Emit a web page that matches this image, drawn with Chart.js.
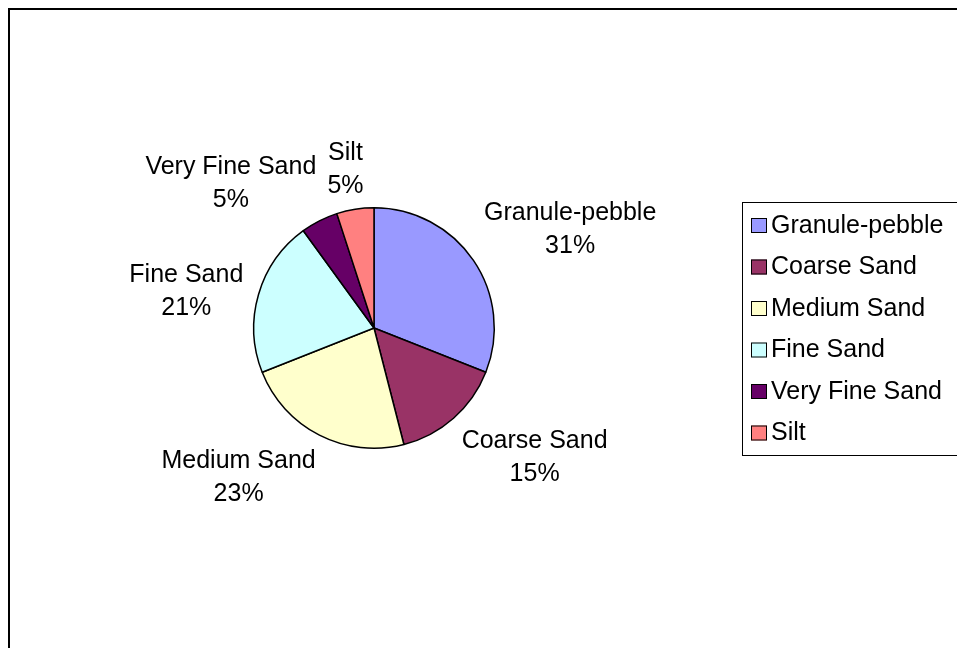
<!DOCTYPE html>
<html lang="en">
<head>
  <meta charset="UTF-8">
  <title>Grain size</title>
  <style>
    html, body { margin: 0; padding: 0; background: #ffffff; }
    #grafico { display: block; }
  </style>
</head>
<body>
  <canvas id="grafico" width="957" height="648"></canvas>

  <script src="https://cdn.jsdelivr.net/npm/chart.js"></script>
  <script>
    // dados do gráfico
    const categorias = ["Granule-pebble", "Coarse Sand", "Medium Sand", "Fine Sand", "Very Fine Sand", "Silt"];
    const valores = [31, 15, 23, 21, 5, 5];
    const cores = ["#9999FF", "#993366", "#FFFFCC", "#CCFFFF", "#660066", "#FF8080"];

    const fonte = '25px "Liberation Sans", Arial, sans-serif';

    // moldura externa do gráfico
    const moldura = {
      id: 'moldura',
      beforeDraw(chart) {
        const ctx = chart.ctx;
        ctx.save();
        ctx.fillStyle = '#ffffff';
        ctx.fillRect(0, 0, chart.width, chart.height);
        ctx.strokeStyle = '#000000';
        ctx.lineWidth = 2;
        ctx.strokeRect(9, 9, chart.width + 20, chart.height + 20);
        ctx.restore();
      }
    };

    // rótulos fora das fatias (nome + porcentagem)
    const rotulos = {
      id: 'rotulos',
      afterDatasetsDraw(chart) {
        const ctx = chart.ctx;
        const arcos = chart.getDatasetMeta(0).data;
        const total = valores.reduce((a, b) => a + b, 0);
        ctx.save();
        ctx.font = fonte;
        ctx.fillStyle = '#000000';
        ctx.textAlign = 'center';
        ctx.textBaseline = 'middle';
        arcos.forEach((arco, i) => {
          const meio = (arco.startAngle + arco.endAngle) / 2;
          const r = arco.outerRadius + 20;
          const c = Math.cos(meio), s = Math.sin(meio);
          const px = arco.x + c * r;
          const py = arco.y + s * r;
          const linha1 = categorias[i];
          const linha2 = Math.round(valores[i] / total * 100) + '%';
          const w = Math.max(ctx.measureText(linha1).width, ctx.measureText(linha2).width);
          const cx = px + Math.sign(c) * 0.93 * w / 2 * Math.min(1, Math.abs(c) * 2.5);
          const cy = py + Math.sign(s) * 22 * Math.min(1, Math.max(0, Math.abs(s) - 0.3) * 4);
          ctx.fillText(linha1, cx, cy - 14);
          ctx.fillText(linha2, cx, cy + 19);
        });
        ctx.restore();
      }
    };

    // legenda desenhada à direita com caixa
    const legenda = {
      id: 'legenda',
      afterDraw(chart) {
        const ctx = chart.ctx;
        ctx.save();
        ctx.strokeStyle = '#000000';
        ctx.lineWidth = 1;
        ctx.strokeRect(742.5, 202.5, 240, 253);
        ctx.font = fonte;
        ctx.textBaseline = 'middle';
        ctx.textAlign = 'left';
        categorias.forEach((nome, i) => {
          const y = 225 + i * 41.5;
          ctx.fillStyle = cores[i];
          ctx.fillRect(751, y - 7, 16, 15);
          ctx.strokeStyle = '#000000';
          ctx.strokeRect(751.5, y - 6.5, 15, 14);
          ctx.fillStyle = '#000000';
          ctx.fillText(nome, 771, y + 1);
        });
        ctx.restore();
      }
    };

    new Chart(document.getElementById('grafico'), {
      type: 'pie',
      data: {
        labels: categorias,
        datasets: [{
          data: valores,
          backgroundColor: cores,
          borderColor: '#000000',
          borderWidth: 1.5
        }]
      },
      options: {
        responsive: false,
        animation: false,
        events: [],
        layout: {
          padding: { left: 253, right: 462, top: 207, bottom: 199 }
        },
        plugins: {
          legend: { display: false },
          tooltip: { enabled: false }
        }
      },
      plugins: [moldura, rotulos, legenda]
    });
  </script>
</body>
</html>
